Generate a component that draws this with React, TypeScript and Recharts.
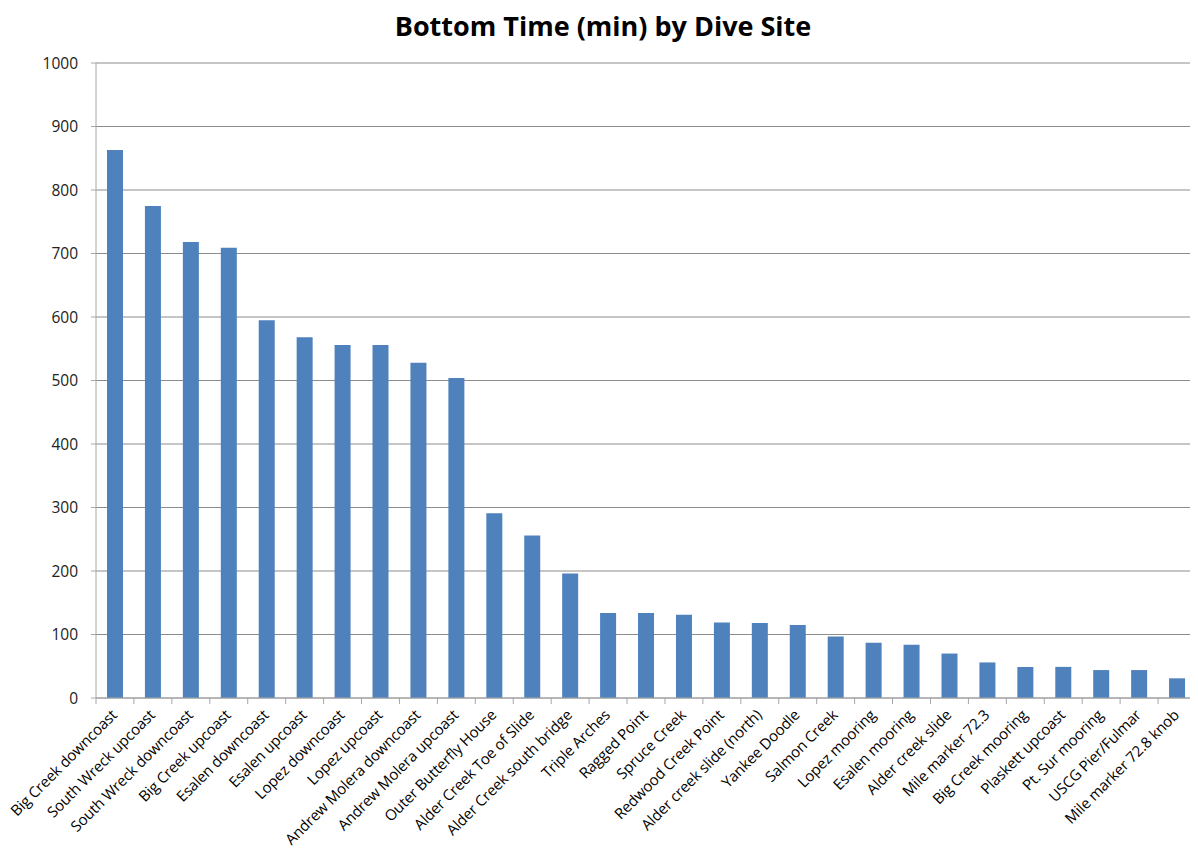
import React from "react";
import { BarChart, Bar, XAxis, YAxis, CartesianGrid } from "recharts";

const sites = [
  "Big Creek downcoast",
  "South Wreck upcoast",
  "South Wreck downcoast",
  "Big Creek upcoast",
  "Esalen downcoast",
  "Esalen upcoast",
  "Lopez downcoast",
  "Lopez upcoast",
  "Andrew Molera downcoast",
  "Andrew Molera upcoast",
  "Outer Butterfly House",
  "Alder Creek Toe of Slide",
  "Alder Creek south bridge",
  "Triple Arches",
  "Ragged Point",
  "Spruce Creek",
  "Redwood Creek Point",
  "Alder creek slide (north)",
  "Yankee Doodle",
  "Salmon Creek",
  "Lopez mooring",
  "Esalen mooring",
  "Alder creek slide",
  "Mile marker 72.3",
  "Big Creek mooring",
  "Plaskett upcoast",
  "Pt. Sur mooring",
  "USCG Pier/Fulmar",
  "Mile marker 72.8 knob",
];

const bottomTime = [
  863, 775, 718, 709, 595, 568, 556, 556, 528, 504, 291, 256, 196, 134, 134,
  131, 119, 118, 115, 97, 87, 84, 70, 56, 49, 49, 44, 44, 31,
];

const yTicks = [0, 100, 200, 300, 400, 500, 600, 700, 800, 900, 1000];

const data = sites.map((site, i) => ({ site, value: bottomTime[i] }));

const CHART_W = 1198;
const CHART_H = 860;
const MARGIN = { top: 63, right: 2, bottom: 0, left: 0 };
const Y_W = 96;
const PLOT_W = CHART_W - MARGIN.left - MARGIN.right - Y_W;
const BAND = PLOT_W / sites.length;
const FONT = "'Open Sans', sans-serif";

const XTick = (props: any) => {
  const { x, y, payload } = props;
  const tx = x + 3;
  const ty = y + 10;
  return (
    <g>
      <line x1={x + BAND / 2} y1={y - 8} x2={x + BAND / 2} y2={y - 2} stroke="#a6a6a6" />
      {payload.index === 0 && (
        <line x1={x - BAND / 2} y1={y - 8} x2={x - BAND / 2} y2={y - 2} stroke="#a6a6a6" />
      )}
      <text
        x={tx}
        y={ty}
        textAnchor="end"
        fontSize={15}
        letterSpacing={-0.15}
        fontFamily={FONT}
        fill="#000"
        transform={`rotate(-45 ${tx} ${ty})`}
      >
        {payload.value}
      </text>
    </g>
  );
};

export default function App() {
  return (
    <div
      style={{
        position: "relative",
        width: CHART_W,
        height: CHART_H,
        margin: "-8px 0 0 -8px",
        background: "#fff",
      }}
    >
      <div
        style={{
          position: "absolute",
          top: 7,
          left: 4,
          width: CHART_W,
          textAlign: "center",
          fontFamily: FONT,
          fontWeight: 700,
          fontSize: 27,
          color: "#000",
        }}
      >
        Bottom Time (min) by Dive Site
      </div>
      <BarChart width={CHART_W} height={CHART_H} data={data} margin={MARGIN}>
        <CartesianGrid vertical={false} stroke="#8c8c8c" strokeWidth={1} />
        <XAxis
          dataKey="site"
          interval={0}
          height={CHART_H - 698}
          tickLine={false}
          axisLine={{ stroke: "#a6a6a6" }}
          tick={<XTick />}
        />
        <YAxis
          domain={[0, 1000]}
          ticks={yTicks}
          width={Y_W}
          tickSize={5}
          tickMargin={13}
          axisLine={{ stroke: "#a6a6a6" }}
          tickLine={{ stroke: "#a6a6a6" }}
          tick={{ fontSize: 15.5, fontFamily: FONT, fill: "#222" }}
        />
        <Bar dataKey="value" fill="#4f81bd" barSize={16} isAnimationActive={false} />
      </BarChart>
    </div>
  );
}
